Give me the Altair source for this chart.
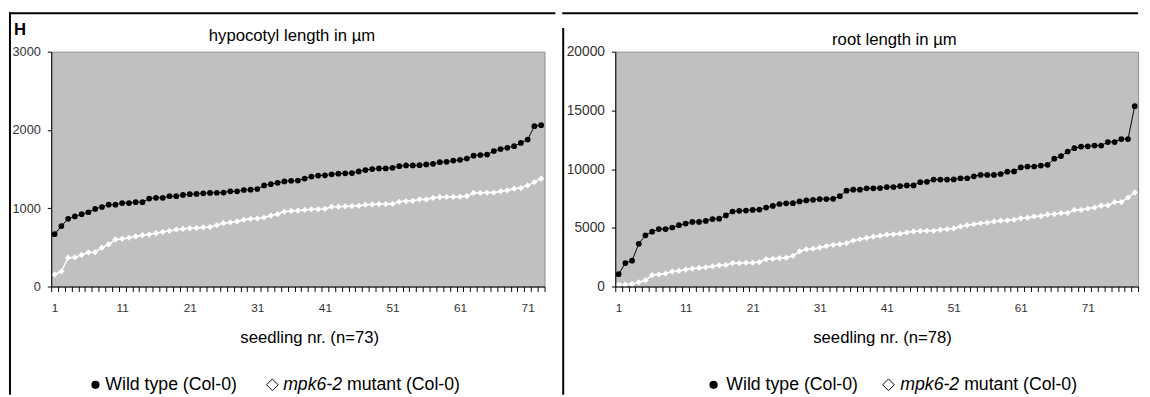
import altair as alt
import pandas as pd

# ---------------- data ----------------
series_names = ["Wild type (Col-0)", "mpk6-2 mutant (Col-0)"]

hyp_wt = [669, 773, 865, 895, 924, 949, 991, 1016, 1045, 1045,
          1066, 1066, 1078, 1078, 1124, 1133, 1133, 1154, 1154, 1170,
          1179, 1183, 1191, 1195, 1198, 1200, 1216, 1216, 1233, 1237,
          1246, 1292, 1308, 1325, 1342, 1350, 1354, 1379, 1404, 1417,
          1421, 1434, 1442, 1446, 1450, 1471, 1488, 1501, 1508, 1509,
          1517, 1538, 1547, 1547, 1550, 1559, 1568, 1588, 1593, 1609,
          1618, 1634, 1672, 1680, 1685, 1731, 1756, 1772, 1793, 1835,
          1877, 2048, 2061]
hyp_mut = [155, 192, 368, 372, 405, 435, 439, 497, 539, 602,
           610, 623, 640, 656, 665, 681, 698, 711, 727, 736,
           744, 748, 757, 761, 784, 811, 819, 832, 853, 865,
           869, 882, 907, 924, 957, 966, 970, 978, 986, 986,
           991, 1020, 1020, 1024, 1028, 1032, 1045, 1049, 1053, 1053,
           1055, 1083, 1091, 1095, 1112, 1112, 1133, 1141, 1145, 1145,
           1147, 1154, 1196, 1196, 1200, 1200, 1216, 1229, 1250, 1258,
           1292, 1333, 1379]
root_wt = [1056, 2000, 2200, 3639, 4361, 4667, 4889, 4889, 5028, 5222,
           5361, 5500, 5500, 5583, 5750, 5778, 6056, 6389, 6444, 6472,
           6528, 6556, 6722, 6861, 7028, 7083, 7100, 7250, 7333, 7389,
           7444, 7444, 7472, 7694, 8167, 8250, 8250, 8361, 8361, 8389,
           8472, 8472, 8556, 8611, 8611, 8890, 8920, 9111, 9111, 9111,
           9120, 9222, 9222, 9389, 9500, 9500, 9500, 9583, 9778, 9806,
           10139, 10222, 10222, 10306, 10361, 10889, 11111, 11500, 11778, 11917,
           11944, 12000, 12000, 12306, 12306, 12556, 12556, 15361]
root_mut = [167, 167, 222, 361, 528, 972, 1028, 1111, 1278, 1333,
            1444, 1528, 1583, 1639, 1722, 1806, 1833, 2000, 2000, 2028,
            2028, 2083, 2333, 2361, 2417, 2460, 2611, 3000, 3167, 3222,
            3306, 3444, 3556, 3611, 3694, 3917, 4028, 4139, 4250, 4306,
            4417, 4444, 4500, 4611, 4694, 4722, 4750, 4750, 4833, 4889,
            4944, 5111, 5222, 5306, 5389, 5444, 5528, 5611, 5639, 5694,
            5806, 5861, 5972, 6000, 6139, 6167, 6250, 6278, 6528, 6528,
            6639, 6722, 6889, 6917, 7194, 7194, 7583, 8000]

hyp_ticks = [0, 1000, 2000, 3000]
root_ticks = [0, 5000, 10000, 15000, 20000]

FONT = "Liberation Sans"
LABEL_COLOR = "#333333"


def long_df(wt, mut):
    n = len(wt)
    return pd.DataFrame({
        "seedling": list(range(1, n + 1)) * 2,
        "value": wt + mut,
        "series": [series_names[0]] * n + [series_names[1]] * n,
    })


def deco_rect(x, x2, y, y2):
    return alt.Chart(pd.DataFrame({"d": [0]})).mark_rect(color="black").encode(
        x=alt.value(x), x2=alt.value(x2), y=alt.value(y), y2=alt.value(y2))


def deco_text(s, x, y, size, align="left", weight="normal", style="normal",
              baseline="middle"):
    return alt.Chart(pd.DataFrame({"t": [s]})).mark_text(
        align=align, baseline=baseline, font=FONT, fontSize=size,
        fontWeight=weight, fontStyle=style, color="black").encode(
        x=alt.value(x), y=alt.value(y), text="t:N")


def deco_symbol(shape, x, y, size, filled):
    return alt.Chart(pd.DataFrame({"d": [0]})).mark_point(
        shape=shape, size=size, filled=filled, color="black",
        strokeWidth=1, opacity=1).encode(x=alt.value(x), y=alt.value(y))


def legend_layers(cx, tx, dx, mx, y, size=18):
    italic_w = 3.334 * size
    return [
        deco_symbol("circle", cx, y, 70, True),
        deco_text(series_names[0], tx, y, size),
        deco_symbol("diamond", dx, y, 140, False),
        deco_text("mpk6-2", mx, y, size, style="italic"),
        deco_text("mutant (Col-0)", mx + italic_w + 0.278 * size, y, size),
    ]


def panel(wt, mut, ymax, yticks, W, H, extra, ylabel_size):
    n = len(wt)
    df = long_df(wt, mut)
    xaxis = alt.Axis(
        values=[i + 0.5 for i in range(0, n + 1)],
        labelExpr="((datum.value + 0.5) % 10 == 1) ? toString(datum.value + 0.5) : ''",
        labelOffset=W / n / 2, title=None, grid=False, ticks=True, tickSize=5,
        tickWidth=1, domainColor="black", domainWidth=1, tickColor="black",
        labelFlush=False, labelOverlap=False, labelPadding=11, labelFontSize=12,
        labelFont=FONT, labelColor=LABEL_COLOR, zindex=1)
    yaxis = alt.Axis(
        values=yticks, format="d", title=None, grid=False, tickSize=4,
        domainColor="black", tickColor="black", labelFlush=False,
        labelOverlap=False, labelPadding=7, labelFontSize=ylabel_size,
        labelFont=FONT, labelColor=LABEL_COLOR, zindex=1)
    base = alt.Chart(df).encode(
        x=alt.X("seedling:Q", scale=alt.Scale(domain=[0.5, n + 0.5], nice=False, zero=False), axis=xaxis),
        y=alt.Y("value:Q", scale=alt.Scale(domain=[0, ymax], nice=False), axis=yaxis),
    )
    col = alt.Color("series:N", scale=alt.Scale(domain=series_names, range=["black", "white"]), legend=None)
    lines = base.mark_line().encode(
        color=col,
        strokeWidth=alt.StrokeWidth("series:N", scale=alt.Scale(domain=series_names, range=[1, 1.5]), legend=None),
    )
    pts = base.mark_point(filled=True, opacity=1).encode(
        color=col,
        shape=alt.Shape("series:N", scale=alt.Scale(domain=series_names, range=["circle", "diamond"]), legend=None),
        size=alt.Size("series:N", scale=alt.Scale(domain=series_names, range=[34, 40]), legend=None),
    )
    return alt.layer(lines, pts, *extra).properties(width=W, height=H)


# left panel: plot origin ~ page (51, 48)
left_extra = [
    deco_rect(-43, 513, -40, -38),      # top frame line
    deco_rect(-43, -41, -40, 349),      # left frame line
    deco_text("H", -38, -17, 17, weight="bold", baseline="alphabetic"),
    deco_text("hypocotyl length in µm", 245, -11, 17, align="center", baseline="alphabetic"),
    deco_text("seedling nr. (n=73)", 263, 291, 17, align="center"),
] + legend_layers(45, 55, 225, 236, 339)

# right panel: plot origin ~ page (618, 48)
right_extra = [
    deco_rect(-54, 532, -40, -38),      # top frame line
    deco_rect(-54, -52, -24, 349),      # divider
    deco_text("root length in µm", 284, -7, 17, align="center", baseline="alphabetic"),
    deco_text("seedling nr. (n=78)", 272, 291, 17, align="center"),
] + legend_layers(100, 113, 278, 290, 339)

left = panel(hyp_wt, hyp_mut, 3000, hyp_ticks, 502, 239, left_extra, 13)
right = panel(root_wt, root_mut, 20000, root_ticks, 532, 239, right_extra, 14)

chart = alt.hconcat(left, right, spacing=5).properties(
    padding=0, background="white"
).configure_view(fill="#C0C0C0", stroke="#8c8c8c", strokeWidth=1)

chart.save("out.html", embed_options={"renderer": "svg", "actions": False})
